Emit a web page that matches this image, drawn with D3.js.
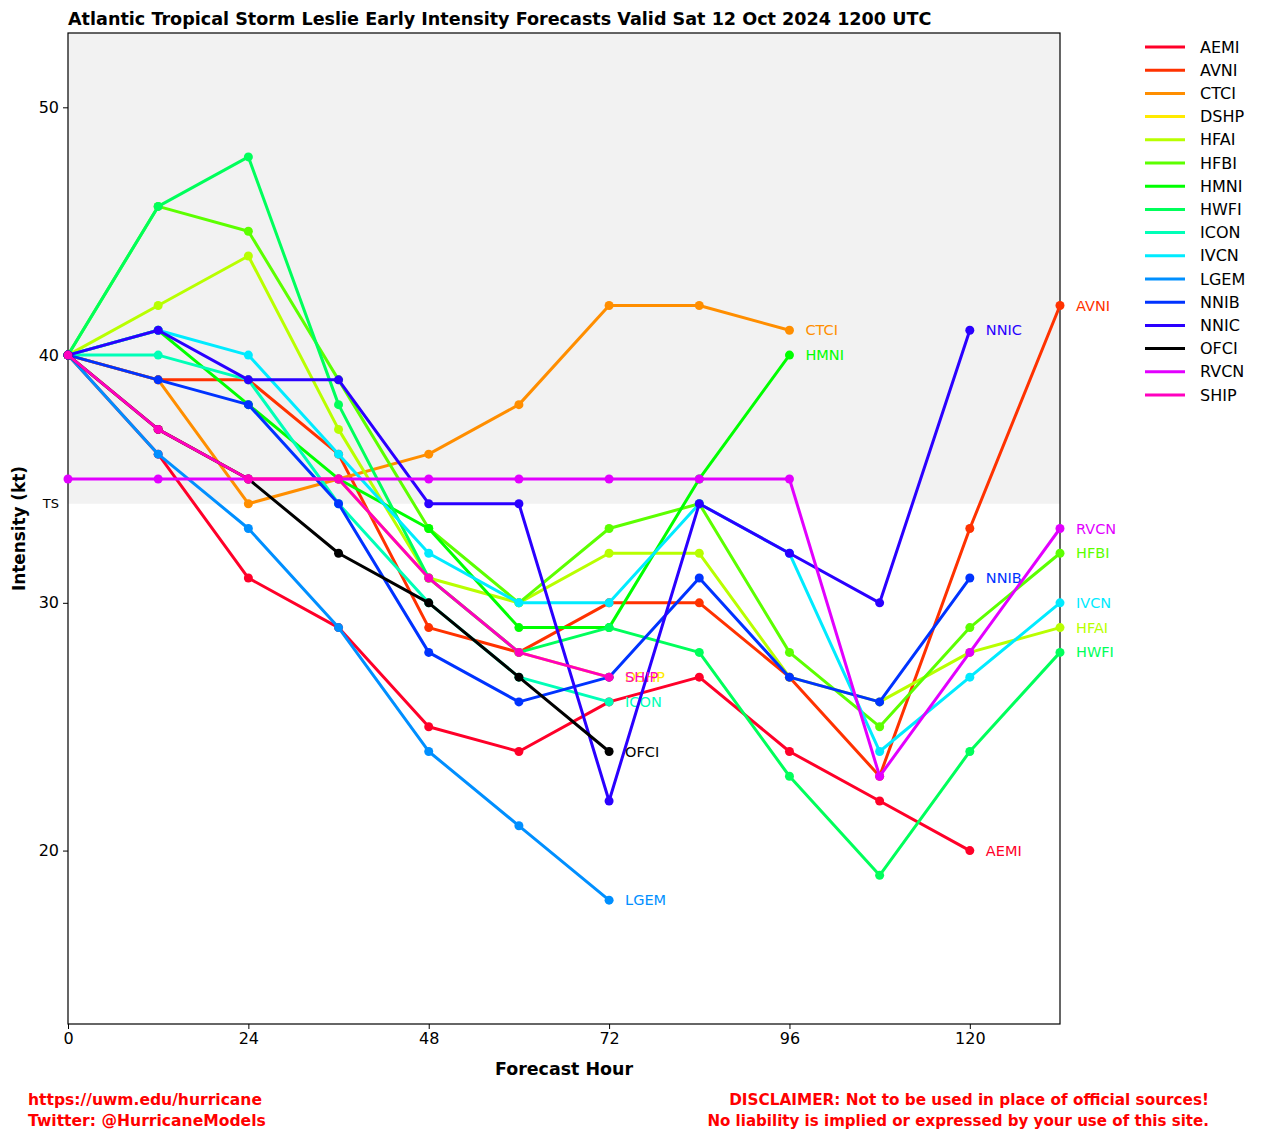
<!DOCTYPE html>
<html><head><meta charset="utf-8">
<script src="https://cdn.jsdelivr.net/npm/d3@7"></script>
<style>body{margin:0;background:#fff}svg{display:block;font-family:"DejaVu Sans",sans-serif}</style>
</head><body><svg id="c" width="1263" height="1139"></svg>
<script>
const hours = [0,12,24,36,48,60,72,84,96,108,120,132];
const models = ["AEMI","AVNI","CTCI","DSHP","HFAI","HFBI","HMNI","HWFI","ICON","IVCN","LGEM","NNIB","NNIC","OFCI","RVCN","SHIP"];
const colors = ["#ff0029","#ff3200","#ff8e00","#ffea00","#b8ff00","#5cff00","#00ff00","#00ff5b","#00ffb7","#00ebff","#008fff","#0033ff","#2a00ff","#000000","#e200ff","#ff00bf"];
const AEMI = [40,36,31,29,25,24,26,27,24,22,20];
const AVNI = [40,39,39,36,29,28,30,30,27,23,33,42];
const CTCI = [40,39,34,35,36,38,42,42,41];
const DSHP = [40,37,35,35,31,28,27];
const HFAI = [40,42,44,37,31,30,32,32,27,26,28,29];
const HFBI = [40,46,45,39,33,30,33,34,28,25,29,32];
const HMNI = [40,41,38,35,33,29,29,35,40];
const HWFI = [40,46,48,38,31,28,29,28,23,19,24,28];
const ICON = [40,40,39,34,30,27,26];
const IVCN = [40,41,40,36,32,30,30,34,32,24,27,30];
const LGEM = [40,36,33,29,24,21,18];
const NNIB = [40,39,38,34,28,26,27,31,27,26,31];
const NNIC = [40,41,39,39,34,34,22,34,32,30,41];
const OFCI = [40,37,35,32,30,27,24];
const RVCN = [35,35,35,35,35,35,35,35,35,23,28,33];
const SHIP = [40,37,35,35,31,28,27];
const seriesValues = [AEMI,AVNI,CTCI,DSHP,HFAI,HFBI,HMNI,HWFI,ICON,IVCN,LGEM,NNIB,NNIC,OFCI,RVCN,SHIP];
const xTicks = [0,24,48,72,96,120];
const yTicks = [20,30,40,50];
const tsValue = 34;
const title = "Atlantic Tropical Storm Leslie Early Intensity Forecasts Valid Sat 12 Oct 2024 1200 UTC";

const svg = d3.select("#c");
const L=68,R=1060,T=33,B=1024;
const x = d3.scaleLinear().domain([0,132]).range([L,R]);
const y = d3.scaleLinear().domain([13,53]).range([B,T]);

svg.append("rect").attr("x",L).attr("y",T).attr("width",R-L).attr("height",y(tsValue)-T).attr("fill","#f2f2f2");

const xa = svg.append("g").attr("transform",`translate(0,${B})`).call(d3.axisBottom(x).tickValues(xTicks).tickSize(5).tickPadding(4));
const ya = svg.append("g").attr("transform",`translate(${L},0)`).call(d3.axisLeft(y).tickValues(yTicks).tickSize(5).tickPadding(4));
[xa,ya].forEach(a=>{a.select(".domain").remove();a.selectAll("text").attr("font-size",16).attr("font-family","DejaVu Sans").attr("fill","#000");a.selectAll("line").attr("stroke","#000");});
svg.append("text").attr("x",L-9).attr("y",y(tsValue)).attr("dy","0.35em").attr("text-anchor","end").attr("font-size",13).text("TS");

svg.append("rect").attr("x",L).attr("y",T).attr("width",R-L).attr("height",B-T).attr("fill","none").attr("stroke","#000").attr("stroke-width",1.2);

const line = d3.line().x((d,i)=>x(hours[i])).y(d=>y(d));
const g = svg.append("g");
seriesValues.forEach((vals,k)=>{
  const c = colors[k];
  g.append("path").attr("d",line(vals)).attr("fill","none").attr("stroke",c).attr("stroke-width",3).attr("stroke-linejoin","round");
  g.selectAll(null).data(vals).enter().append("circle").attr("cx",(d,i)=>x(hours[i])).attr("cy",d=>y(d)).attr("r",4.5).attr("fill",c);
  const n = vals.length-1;
  g.append("text").attr("x",x(hours[n])+16).attr("y",y(vals[n])).attr("dy","0.35em").attr("font-size",14.5).attr("fill",c).text(models[k]);
});

function fit(t,w){const cur=t.node().getComputedTextLength();const fs=+t.attr("font-size");t.attr("font-size",(fs*w/cur).toFixed(2));}
const tt = svg.append("text").attr("x",L).attr("y",25).attr("font-size",17).attr("font-weight","bold").text(title);
fit(tt,864);
const xt = svg.append("text").attr("x",(L+R)/2).attr("y",1075).attr("text-anchor","middle").attr("font-size",18).attr("font-weight","bold").text("Forecast Hour");
fit(xt,138);
const yt = svg.append("text").attr("transform",`translate(25,${(T+B)/2}) rotate(-90)`).attr("text-anchor","middle").attr("font-size",18).attr("font-weight","bold").text("Intensity (kt)");
fit(yt,125);

const lg = svg.append("g");
models.forEach((m,i)=>{
  const yy = 47 + i*23.2;
  lg.append("line").attr("x1",1145).attr("x2",1185).attr("y1",yy).attr("y2",yy).attr("stroke",colors[i]).attr("stroke-width",3);
  lg.append("text").attr("x",1200).attr("y",yy).attr("dy","0.35em").attr("font-size",16).text(m);
});

const foot = [["https://uwm.edu/hurricane",28,1105,"start",234],["Twitter: @HurricaneModels",28,1126,"start",238],["DISCLAIMER: Not to be used in place of official sources!",1209,1105,"end",480],["No liability is implied or expressed by your use of this site.",1209,1126,"end",502]];
foot.forEach(f=>{const t=svg.append("text").attr("x",f[1]).attr("y",f[2]).attr("text-anchor",f[3]).attr("font-size",16).attr("font-weight","bold").attr("fill","#ff0000").text(f[0]);fit(t,f[4]);});
</script></body></html>
